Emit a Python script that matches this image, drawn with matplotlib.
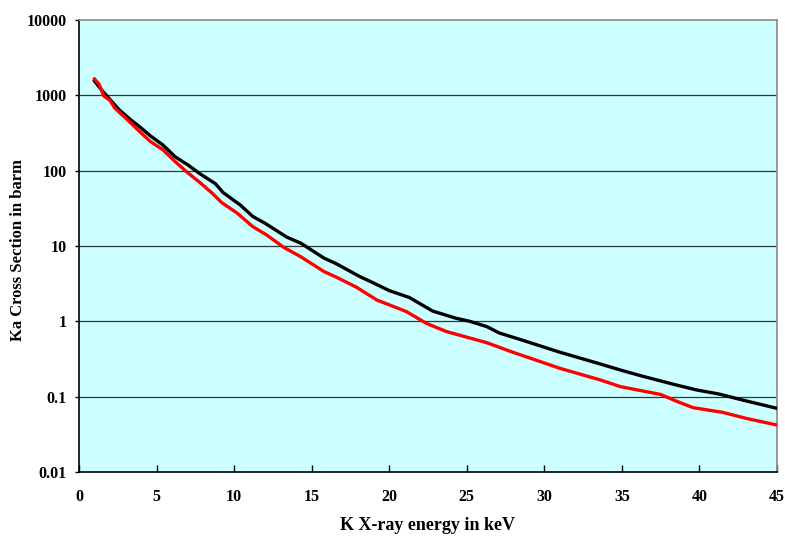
import matplotlib
matplotlib.use("Agg")
import matplotlib.pyplot as plt
from matplotlib.ticker import FixedLocator, FuncFormatter, NullLocator

# black curve
black_x = [1.0, 1.5, 2.0, 2.3, 2.6, 3.3, 4.0, 4.6, 5.4, 6.2, 7.0, 7.8, 8.8, 9.3,
           10.4, 11.2, 12.0, 13.4, 14.3, 15.8, 16.6, 18.1, 18.8, 20.0, 21.3,
           22.8, 24.3, 25.2, 26.3, 27.1, 28.4, 31.0, 33.6, 34.9, 36.2, 38.5,
           39.8, 41.3, 42.8, 45.0]
black_y = [1550, 1150, 880, 750, 640, 480, 370, 290, 220, 153, 120, 91, 67, 51,
           35, 24.7, 20, 13.1, 10.9, 6.9, 5.8, 3.93, 3.37, 2.56, 2.07,
           1.37, 1.1, 1.0, 0.85, 0.70, 0.578, 0.389, 0.272, 0.226, 0.19, 0.143,
           0.123, 0.108, 0.090, 0.070]

# red curve
red_x = [1.0, 1.3, 1.6, 2.0, 2.3, 3.0, 4.0, 4.6, 5.4, 6.2, 6.9, 7.8, 8.6, 9.2,
         10.2, 11.2, 12.1, 13.2, 14.3, 15.8, 16.6, 17.9, 19.2, 21.1, 22.4,
         23.7, 26.3, 27.8, 31.0, 33.6, 34.9, 37.5, 38.6, 39.6, 41.5, 43.0, 45.0]
red_y = [1650, 1400, 980, 855, 680, 500, 318, 244, 190, 132, 98, 69.5, 50, 37.7,
         27.3, 18.1, 14, 9.6, 7.2, 4.57, 3.85, 2.83, 1.92, 1.35, 0.94,
         0.73, 0.52, 0.40, 0.238, 0.167, 0.136, 0.107, 0.0857, 0.0714, 0.0619,
         0.0516, 0.042]

y_ticks = [0.01, 0.1, 1, 10, 100, 1000, 10000]
x_ticks = [0, 5, 10, 15, 20, 25, 30, 35, 40, 45]

plt.rcParams["font.family"] = ["Liberation Serif", "DejaVu Serif"]
plt.rcParams["font.weight"] = "bold"

W, H = 785, 536
fig = plt.figure(figsize=(W / 100, H / 100), dpi=100)
ax = fig.add_axes([0.1006, 0.1194, 0.8892, 0.8433])
ax.set_facecolor("#CCFFFF")

ax.set_yscale("log")
ax.set_xlim(0, 45)
ax.set_ylim(0.01, 10000)

for v in y_ticks[1:-1]:
    ax.axhline(v, color="#333333", lw=0.9, zorder=1)

ax.plot(black_x, black_y, color="black", lw=2.4, zorder=3)
ax.plot(red_x, red_y, color="#FF0000", lw=2.4, zorder=4)

ax.yaxis.set_major_locator(FixedLocator(y_ticks))
ax.yaxis.set_minor_locator(NullLocator())
ax.yaxis.set_major_formatter(FuncFormatter(lambda v, p: "%g" % v))
ax.xaxis.set_major_locator(FixedLocator(x_ticks))

ax.tick_params(axis="x", direction="in", length=5, width=1, labelsize=11.5, pad=12)
ax.tick_params(axis="y", direction="out", length=3, width=1, labelsize=11.5, pad=6)

for s in ("left", "bottom"):
    ax.spines[s].set_color("black")
    ax.spines[s].set_linewidth(1.2)
for s in ("top", "right"):
    ax.spines[s].set_color("#888888")
    ax.spines[s].set_linewidth(1.2)

# axis titles placed in figure pixels
fig.text(428 / W, 1 - 525 / H, "K X-ray energy in keV", fontsize=13,
         fontweight="bold", ha="center", va="center")
fig.text(18 / W, 1 - 250 / H, "Ka Cross Section in barm", fontsize=12,
         fontweight="bold", ha="center", va="center", rotation=90)

fig.savefig("out.png", dpi=100)
